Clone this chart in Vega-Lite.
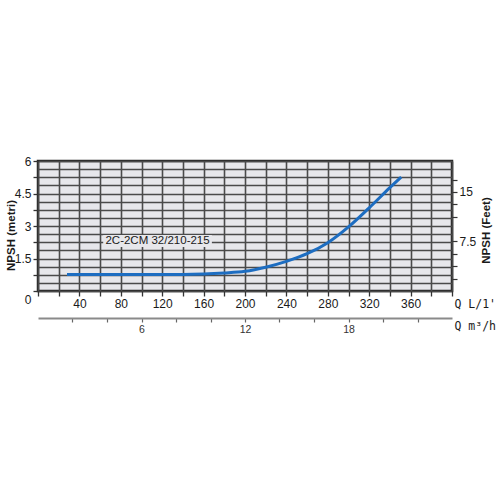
{
  "$schema": "https://vega.github.io/schema/vega-lite/v6.json",
  "width": 414,
  "height": 130,
  "autosize": {"type": "none"},
  "padding": {"left": 38, "top": 161, "right": 48, "bottom": 209},
  "background": "white",
  "config": {
    "view": {"fill": "#e7e7eb", "stroke": "#262626", "strokeWidth": 2.5},
    "axis": {
      "labelFont": "Liberation Sans Narrow, Liberation Sans, sans-serif",
      "labelColor": "#1a1a1a",
      "titleFont": "Liberation Sans, sans-serif",
      "titleColor": "#1a1a1a",
      "labelFlush": false,
      "labelOverlap": false
    }
  },
  "datasets": {
    "curve": [
      {"q": 28, "h": 0.76},
      {"q": 60, "h": 0.76},
      {"q": 100, "h": 0.76},
      {"q": 140, "h": 0.76},
      {"q": 160, "h": 0.78},
      {"q": 180, "h": 0.83},
      {"q": 200, "h": 0.91},
      {"q": 220, "h": 1.1},
      {"q": 240, "h": 1.37},
      {"q": 260, "h": 1.72},
      {"q": 280, "h": 2.23},
      {"q": 300, "h": 2.96},
      {"q": 320, "h": 3.84},
      {"q": 340, "h": 4.77},
      {"q": 351, "h": 5.26}
    ],
    "box": [{"q1": 63, "q2": 168, "h1": 2.03, "h2": 2.58}],
    "label": [{"q": 115.5, "h": 2.31, "t": "2C-2CM 32/210-215"}]
  },
  "resolve": {"axis": {"x": "independent", "y": "independent"}},
  "layer": [
    {
      "data": {"name": "box"},
      "mark": {"type": "rect", "color": "#e7e7eb"},
      "encoding": {
        "x": {"field": "q1", "type": "quantitative", "scale": {"domain": [0, 400], "nice": false}, "axis": null},
        "x2": {"field": "q2"},
        "y": {"field": "h1", "type": "quantitative", "scale": {"domain": [0, 6], "nice": false}, "axis": null},
        "y2": {"field": "h2"}
      }
    },
    {
      "data": {"name": "curve"},
      "mark": {"type": "line", "color": "#1d6dc1", "strokeWidth": 3, "interpolate": "monotone"},
      "encoding": {
        "x": {
          "field": "q", "type": "quantitative",
          "scale": {"domain": [0, 400], "nice": false},
          "axis": {
            "orient": "bottom",
            "values": [0, 20, 40, 60, 80, 100, 120, 140, 160, 180, 200, 220, 240, 260, 280, 300, 320, 340, 360, 380, 400],
            "grid": true, "gridColor": "#4a4a4a", "gridWidth": 1.6,
            "domain": false,
            "tickSize": 5, "tickColor": "#333333", "tickWidth": 1.3,
            "labelExpr": "datum.value % 40 == 0 && datum.value > 0 && datum.value < 400 ? datum.label : ''",
            "labelFontSize": 12, "labelPadding": 2,
            "title": "Q L/1'", "titleX": 416, "titleY": 16,
            "titleAlign": "left", "titleBaseline": "alphabetic",
            "titleFont": "DejaVu Sans Mono", "titleFontSize": 11.5, "titleFontWeight": "normal"
          }
        },
        "y": {
          "field": "h", "type": "quantitative",
          "scale": {"domain": [0, 6], "nice": false},
          "axis": {
            "orient": "left",
            "values": [0, 0.375, 0.75, 1.125, 1.5, 1.875, 2.25, 2.625, 3, 3.375, 3.75, 4.125, 4.5, 4.875, 5.25, 5.625, 6],
            "grid": true, "gridColor": "#4a4a4a", "gridWidth": 1.6,
            "domain": false,
            "tickSize": 5, "tickColor": "#333333", "tickWidth": 1.3,
            "tickOpacity": {"condition": {"test": "datum.value % 0.75 == 0", "value": 1}, "value": 0},
            "labelExpr": "datum.value % 1.5 == 0 ? format(datum.value, '~g') : ''",
            "labelOffset": {"condition": {"test": "datum.value == 0", "value": 8}, "value": 0},
            "labelFontSize": 12, "labelPadding": 2,
            "title": "NPSH (metri)", "titleX": -27, "titleY": 74,
            "titleAngle": 270, "titleAlign": "center", "titleBaseline": "middle",
            "titleFontSize": 11.5, "titleFontWeight": "bold"
          }
        }
      }
    },
    {
      "data": {"name": "label"},
      "mark": {"type": "text", "font": "Liberation Sans", "fontSize": 11.5, "color": "#1a1a1a", "align": "center", "baseline": "middle"},
      "encoding": {
        "text": {"field": "t"},
        "x": {
          "field": "q", "type": "quantitative",
          "scale": {"domain": [0, 400], "nice": false},
          "axis": {
            "orient": "bottom", "offset": 27,
            "values": [33.3333, 66.6667, 100, 133.3333, 166.6667, 200, 233.3333, 266.6667, 300, 333.3333, 366.6667],
            "grid": false,
            "domain": true, "domainColor": "#8a8a8a", "domainWidth": 2,
            "tickSize": 4, "tickColor": "#666666", "tickWidth": 1.2,
            "labelExpr": "abs(datum.value - 100) < 1 ? '6' : abs(datum.value - 200) < 1 ? '12' : abs(datum.value - 300) < 1 ? '18' : ''",
            "labelFontSize": 10.5, "labelPadding": 2, "labelColor": "#333333",
            "title": "Q m³/h", "titleX": 416, "titleY": 11,
            "titleAlign": "left", "titleBaseline": "alphabetic",
            "titleFont": "DejaVu Sans Mono", "titleFontSize": 11.5, "titleFontWeight": "normal"
          }
        },
        "y": {
          "field": "h", "type": "quantitative",
          "scale": {"domain": [0, 6], "nice": false},
          "axis": {
            "orient": "right",
            "values": [0.5715, 1.143, 1.7145, 2.286, 3.429, 4.0005, 4.572, 5.1435],
            "grid": false, "domain": false,
            "tickSize": 5, "tickColor": "#333333", "tickWidth": 1.2,
            "labelExpr": "abs(datum.value - 2.286) < 0.01 ? '7.5' : abs(datum.value - 4.572) < 0.01 ? '15' : ''",
            "labelFontSize": 12, "labelPadding": 2,
            "title": "NPSH (Feet)", "titleX": 34, "titleY": 69,
            "titleAngle": 270, "titleAlign": "center", "titleBaseline": "middle",
            "titleFontSize": 11.5, "titleFontWeight": "bold"
          }
        }
      }
    }
  ]
}
